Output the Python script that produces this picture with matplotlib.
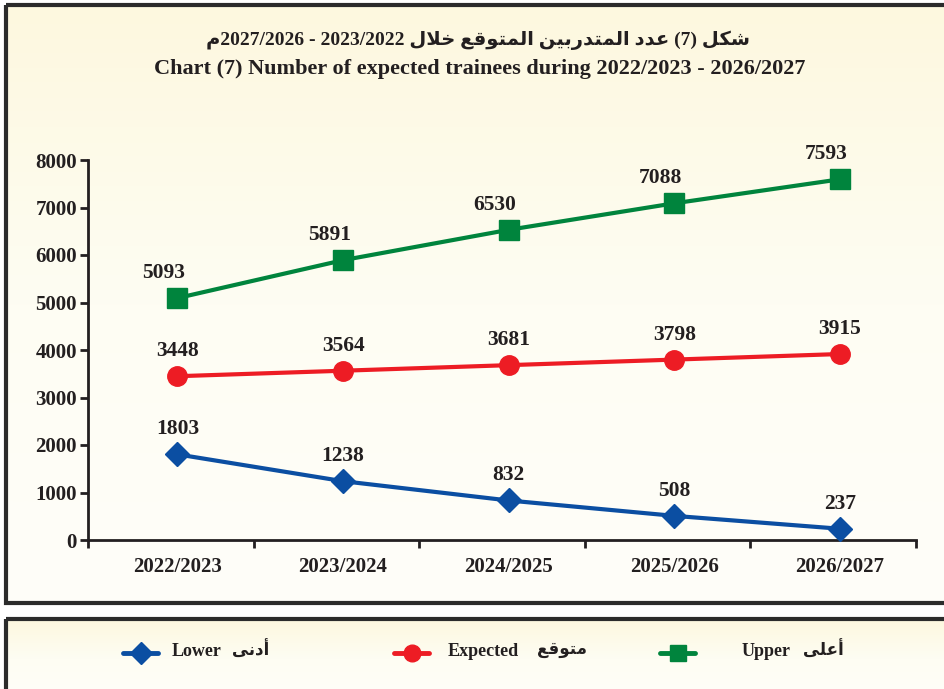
import numpy as np
import matplotlib
matplotlib.use('Agg')
import matplotlib.pyplot as plt
from matplotlib.patches import Rectangle
from matplotlib.lines import Line2D
from matplotlib.colors import LinearSegmentedColormap

# data
years = ['2022/2023', '2023/2024', '2024/2025', '2025/2026', '2026/2027']
lower = [1803, 1238, 832, 508, 237]
expected = [3448, 3564, 3681, 3798, 3915]
upper = [5093, 5891, 6530, 7088, 7593]
yticks = [0, 1000, 2000, 3000, 4000, 5000, 6000, 7000, 8000]

title_en = 'Chart (7) Number of expected trainees during 2022/2023 - 2026/2027'
title_ar_words = ['شكل', '(7)', 'عدد', 'المتدربين', 'المتوقع', 'خلال']
leg_en = ['Lower', 'Expected', 'Upper']
leg_ar = ['أدنى', 'متوقع', 'أعلى']

blue = '#0b4ea2'
red = '#ed1c24'
green = '#00843d'
ink = '#231f20'

# minimal arabic shaping (matplotlib has no shaping engine)
FORMS = {
    'ا': ('\uFE8D', '\uFE8E', None, None),
    'أ': ('\uFE83', '\uFE84', None, None),
    'ب': ('\uFE8F', '\uFE90', '\uFE91', '\uFE92'),
    'ت': ('\uFE95', '\uFE96', '\uFE97', '\uFE98'),
    'خ': ('\uFEA5', '\uFEA6', '\uFEA7', '\uFEA8'),
    'د': ('\uFEA9', '\uFEAA', None, None),
    'ر': ('\uFEAD', '\uFEAE', None, None),
    'ش': ('\uFEB5', '\uFEB6', '\uFEB7', '\uFEB8'),
    'ع': ('\uFEC9', '\uFECA', '\uFECB', '\uFECC'),
    'ق': ('\uFED5', '\uFED6', '\uFED7', '\uFED8'),
    'ك': ('\uFED9', '\uFEDA', '\uFEDB', '\uFEDC'),
    'ل': ('\uFEDD', '\uFEDE', '\uFEDF', '\uFEE0'),
    'م': ('\uFEE1', '\uFEE2', '\uFEE3', '\uFEE4'),
    'ن': ('\uFEE5', '\uFEE6', '\uFEE7', '\uFEE8'),
    'و': ('\uFEED', '\uFEEE', None, None),
    'ى': ('\uFEEF', '\uFEF0', '\uFBE8', '\uFBE9'),
    'ي': ('\uFEF1', '\uFEF2', '\uFEF3', '\uFEF4'),
}
LAMALEF = {'ا': ('\uFEFB', '\uFEFC'), 'أ': ('\uFEF7', '\uFEF8')}


def shape(word):
    if not any(c in FORMS for c in word):
        return word
    out = []
    i = 0
    while i < len(word):
        c = word[i]
        prev = word[i-1] if i > 0 else ''
        jp = prev in FORMS and FORMS[prev][2] is not None
        if c == 'ل' and i+1 < len(word) and word[i+1] in LAMALEF:
            out.append(LAMALEF[word[i+1]][1 if jp else 0])
            i += 2
            continue
        if c not in FORMS:
            out.append(c)
            i += 1
            continue
        iso, fin, ini, med = FORMS[c]
        nxt = word[i+1] if i+1 < len(word) else ''
        jn = ini is not None and nxt in FORMS
        if jp and jn:
            out.append(med)
        elif jp:
            out.append(fin)
        elif jn:
            out.append(ini)
        else:
            out.append(iso)
        i += 1
    return ''.join(reversed(out))


fonts = ['Liberation Serif', 'DejaVu Sans']
W, H = 945, 689
fig = plt.figure(figsize=(W/100, H/100), dpi=100)
fig.patch.set_facecolor('white')

# background / frames in pixel coords
bg = fig.add_axes([0, 0, 1, 1])
bg.axis('off')
grad = np.linspace(0, 1, 200)[:, None]
cream = LinearSegmentedColormap.from_list('cream', ['#fdf8df', '#fefdf3', '#fffef9'])
bg.imshow(grad, cmap=cream, extent=(6, W+10, 603, 6), aspect='auto', zorder=0)
bg.imshow(grad, cmap=cream, extent=(6, W+10, H+10, 619), aspect='auto', zorder=0)
bg.add_patch(Rectangle((6, 5), W+10, 598, fill=False, ec='#2b2b2b', lw=3, zorder=1))
bg.add_patch(Rectangle((6, 619), W+10, 100, fill=False, ec='#2b2b2b', lw=3, zorder=1))
bg.set_xlim(0, W)
bg.set_ylim(H, 0)

# titles
title_ar = shape('م') + '2027/2026 - 2023/2022 ' + ' '.join(shape(w) for w in reversed(title_ar_words))
bg.text(478, 40, title_ar, ha='center', va='center', fontsize=14, fontweight='bold',
        family=fonts, color=ink)
bg.text(480, 69, title_en, ha='center', va='center', fontsize=16, fontweight='bold',
        family=fonts, color=ink)

# legend
leg_x = [141, 412, 678]
leg_text_x = [172, 448, 742]
leg_ar_x = [232, 537, 803]
styles = [(blue, 'D', 11), (red, 'o', 12), (green, 's', 11)]
for k in range(3):
    col, mk, ms = styles[k]
    bg.add_line(Line2D([leg_x[k]-18, leg_x[k]+17], [653, 653], color=col, lw=3.5,
                       solid_capstyle='round', zorder=2))
    bg.plot([leg_x[k]], [653], marker=mk, ms=ms, color=col, mec=col, zorder=3)
    bg.text(leg_text_x[k], 651, leg_en[k], ha='left', va='center', fontsize=13,
            fontweight='bold', family=fonts, color=ink)
    bg.text(leg_ar_x[k], 650, shape(leg_ar[k]), ha='left', va='center', fontsize=12,
            fontweight='bold', family=fonts, color=ink)

# main chart
ax = fig.add_axes([88/W, 1-540/H, (916-88)/W, (540-160)/H])
ax.patch.set_alpha(0)
x = np.arange(len(years))

series = [(upper, green, 's', 15, -10), (expected, red, 'o', 14, 0), (lower, blue, 'D', 12, 0)]
for vals, col, mk, ms, dx in series:
    ax.plot(x, vals, color=col, lw=3, marker=mk, ms=ms, mec=col, mfc=col,
            solid_capstyle='round', clip_on=False, zorder=3)
    for xi, v in zip(x, vals):
        ax.annotate(str(v), (xi, v), xytext=(dx, 18), textcoords='offset points',
                    ha='center', va='center', fontsize=15.5, fontweight='bold',
                    family=fonts, color=ink)

ax.set_xlim(-0.54, 4.46)
ax.set_ylim(0, 8000)
ax.set_yticks(yticks)
ax.set_yticklabels([str(t) for t in yticks], fontsize=15, fontweight='bold',
                   family=fonts, color=ink)
ax.set_xticks(x)
ax.set_xticklabels(years, fontsize=15, fontweight='bold', family=fonts, color=ink)
ax.set_xticks(np.arange(-0.54, 4.5, 1.0), minor=True)
ax.tick_params(axis='x', which='major', length=0, pad=12)
ax.tick_params(axis='x', which='minor', length=6, width=2, color=ink, direction='out')
ax.tick_params(axis='y', which='major', length=6, width=2, color=ink, pad=2)
for s in ['top', 'right']:
    ax.spines[s].set_visible(False)
for s in ['left', 'bottom']:
    ax.spines[s].set_linewidth(2)
    ax.spines[s].set_color(ink)

fig.savefig('out.png', dpi=100)
